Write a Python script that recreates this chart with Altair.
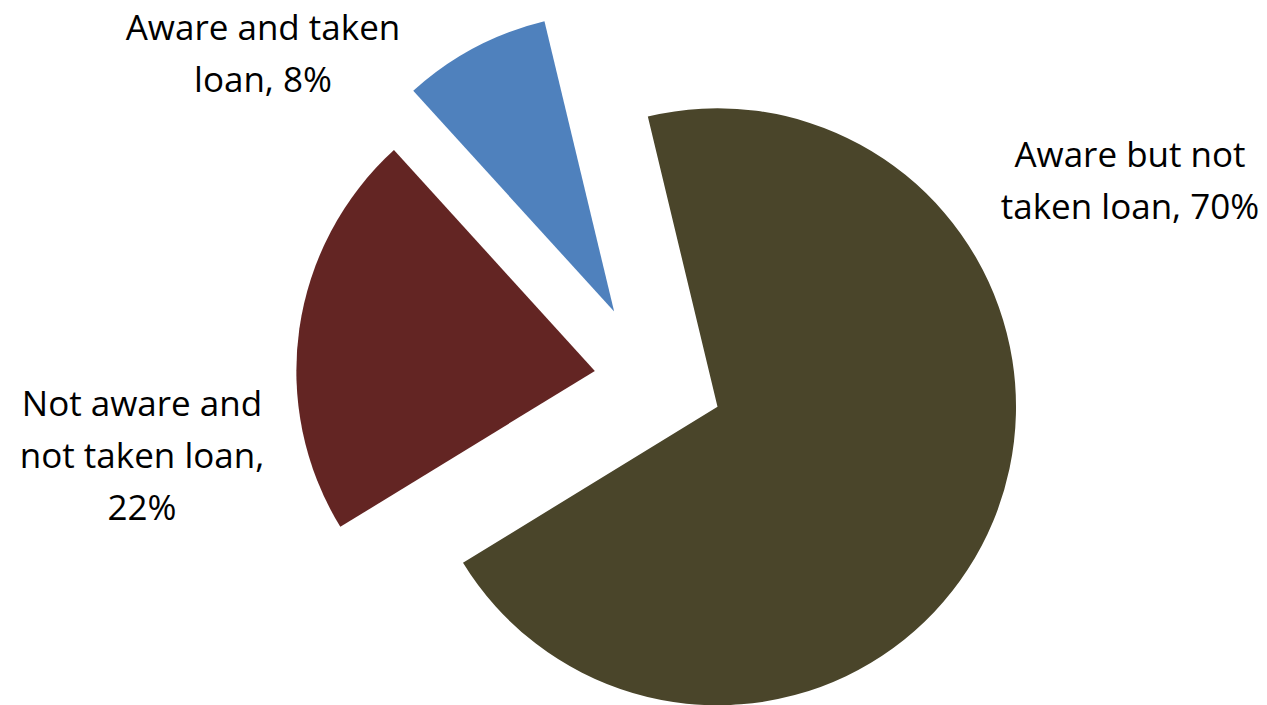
import math
import altair as alt
import pandas as pd

# ---- data ----
categories = ["Aware but not taken loan", "Not aware and not taken loan", "Aware and taken loan"]
shares = [70, 22, 8]
labels = ["Aware but not\ntaken loan, 70%", "Not aware and\nnot taken loan,\n22%", "Aware and taken\nloan, 8%"]

# ---- style / layout ----
colors = ["#4A452A", "#632523", "#4F81BD"]
explode = [73.4, 55.4, 76.0]          # px each slice is pulled out
label_pos = [(1122, 159), (134, 408), (255, 32)]  # first-line baseline anchor
CX, CY = 641.7, 370.7                  # pie centre in the plot area
R = 298.5
A0 = math.radians(-13.5)               # angle of first slice
FONT = "Open Sans"
FS = 35
W, H = 1251, 697

total = sum(shares)
df = pd.DataFrame({"category": categories, "share": shares,
                   "order": list(range(len(shares))), "label": labels})

base = (alt.Chart(df)
        .transform_window(cum="sum(share)", sort=[alt.SortField("order")], frame=[None, 0])
        .transform_calculate(start="datum.cum - datum.share"))

theta_scale = alt.Scale(domain=[0, total], range=[A0, A0 + 2 * math.pi])

layers = []
before = 0
for i, cat in enumerate(categories):
    mid = A0 + 2 * math.pi * (before + shares[i] / 2) / total
    before += shares[i]
    dx = explode[i] * math.sin(mid)
    dy = -explode[i] * math.cos(mid)
    arc = (base.transform_filter(alt.datum.category == cat)
           .mark_arc(radius=R, x=CX + dx, y=CY + dy)
           .encode(theta=alt.Theta("start:Q", scale=theta_scale, stack=None),
                   theta2="cum:Q",
                   color=alt.Color("category:N", scale=alt.Scale(domain=categories, range=colors),
                                   legend=None)))
    layers.append(arc)

for i, cat in enumerate(categories):
    lx, ly = label_pos[i]
    txt = (alt.Chart(df).transform_filter(alt.datum.category == cat)
           .mark_text(x=lx, y=ly, align="center", baseline="alphabetic", lineBreak="\n",
                      lineHeight=52, font=FONT, fontSize=FS, color="black")
           .encode(text="label:N"))
    layers.append(txt)

chart = (alt.layer(*layers)
         .properties(width=W, height=H, padding=0,
                     autosize=alt.AutoSizeParams(type="none"))
         .configure_view(stroke=None))

chart.save("out.html", embed_options={"renderer": "svg", "actions": False})
